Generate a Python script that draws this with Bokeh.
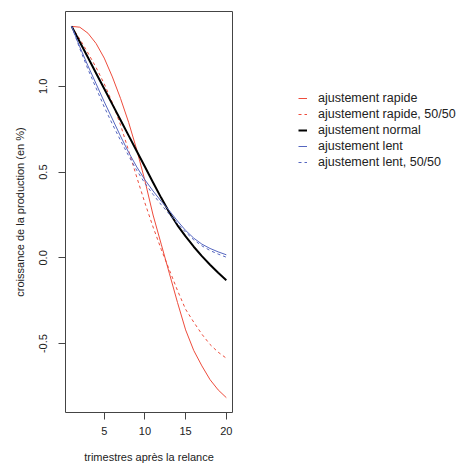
from bokeh.plotting import figure
from bokeh.models import Range1d, FixedTicker, Legend, LegendItem
from bokeh.embed import file_html
from bokeh.resources import INLINE

quarters = list(range(1, 21))
rapide = [1.35, 1.345, 1.31, 1.25, 1.165, 1.055, 0.93, 0.79, 0.63, 0.45,
          0.25, 0.08, -0.09, -0.26, -0.42, -0.54, -0.63, -0.71, -0.77, -0.815]
rapide_5050 = [1.35, 1.275, 1.195, 1.11, 1.015, 0.905, 0.775, 0.625, 0.47, 0.32,
               0.18, 0.05, -0.07, -0.19, -0.30, -0.375, -0.445, -0.505, -0.55, -0.585]
normal = [1.35, 1.259, 1.168, 1.077, 0.986, 0.895, 0.804, 0.713, 0.622, 0.531,
          0.44, 0.35, 0.265, 0.19, 0.125, 0.065, 0.01, -0.04, -0.087, -0.13]
lent = [1.35, 1.23, 1.12, 1.015, 0.91, 0.81, 0.71, 0.615, 0.53, 0.455,
        0.39, 0.33, 0.275, 0.215, 0.16, 0.115, 0.08, 0.055, 0.035, 0.018]
lent_5050 = [1.35, 1.22, 1.10, 0.99, 0.88, 0.78, 0.685, 0.595, 0.51, 0.435,
             0.37, 0.31, 0.255, 0.20, 0.15, 0.105, 0.07, 0.043, 0.022, 0.004]

series_labels = ["ajustement rapide", "ajustement rapide, 50/50", "ajustement normal",
                 "ajustement lent", "ajustement lent, 50/50"]
x_ticks = [5, 10, 15, 20]
y_ticks = [-0.5, 0.0, 0.5, 1.0]
y_tick_labels = ["-0.5", "0.0", "0.5", "1.0"]
x_label = "trimestres après la relance"
y_label = "croissance de la production (en %)"

RED = "#EE4C3C"
BLUE = "#5566C0"
FONT = "Liberation Sans"

all_y = rapide + rapide_5050 + normal + lent + lent_5050
ymin, ymax = min(all_y), max(all_y)
xmin, xmax = min(quarters), max(quarters)
ypad = 0.04 * (ymax - ymin)
xpad = 0.04 * (xmax - xmin)

p = figure(frame_width=167, frame_height=401, output_backend="svg", toolbar_location=None,
           x_range=Range1d(xmin - xpad, xmax + xpad),
           y_range=Range1d(ymin - ypad, ymax + ypad),
           min_border_left=65, min_border_right=0, min_border_top=11, min_border_bottom=53)

p.grid.visible = False
p.outline_line_color = "#444444"
p.outline_line_width = 1

r1 = p.line(quarters, rapide, line_color=RED, line_width=1)
r2 = p.line(quarters, rapide_5050, line_color=RED, line_width=1, line_dash="3 3")
r3 = p.line(quarters, normal, line_color="black", line_width=2)
r4 = p.line(quarters, lent, line_color=BLUE, line_width=1)
r5 = p.line(quarters, lent_5050, line_color=BLUE, line_width=1, line_dash="3 3")

for ax in (p.xaxis[0], p.yaxis[0]):
    ax.axis_line_color = None
    ax.major_tick_line_color = "#444444"
    ax.major_tick_out = 7
    ax.major_tick_in = 0
    ax.minor_tick_line_color = None
    ax.major_label_text_font = FONT
    ax.major_label_text_font_size = "11px"
    ax.major_label_text_color = "#222222"
    ax.axis_label_text_font = FONT
    ax.axis_label_text_font_size = "11px"
    ax.axis_label_text_font_style = "normal"
    ax.axis_label_text_color = "#222222"

p.xaxis[0].ticker = FixedTicker(ticks=x_ticks)
p.xaxis[0].major_label_standoff = 7
p.xaxis[0].axis_label = x_label
p.xaxis[0].axis_label_standoff = 13

p.yaxis[0].ticker = FixedTicker(ticks=y_ticks)
p.yaxis[0].major_label_overrides = {t: l for t, l in zip(y_ticks, y_tick_labels)}
p.yaxis[0].major_label_orientation = "vertical"
p.yaxis[0].major_label_standoff = 11
p.yaxis[0].axis_label = y_label
p.yaxis[0].axis_label_standoff = 11

items = [LegendItem(label=lab, renderers=[r]) for lab, r in
         zip(series_labels, [r1, r2, r3, r4, r5])]
legend = Legend(items=items, location=(66, 242))
legend.border_line_color = None
legend.background_fill_alpha = 0
legend.label_text_font = FONT
legend.label_text_font_size = "12.5px"
legend.label_text_color = "#222222"
legend.glyph_width = 9
legend.glyph_height = 16
legend.label_height = 16
legend.spacing = 0
legend.padding = 0
legend.margin = 0
legend.label_standoff = 11
p.add_layout(legend, "right")

open("out.html", "w").write(file_html(p, INLINE))
